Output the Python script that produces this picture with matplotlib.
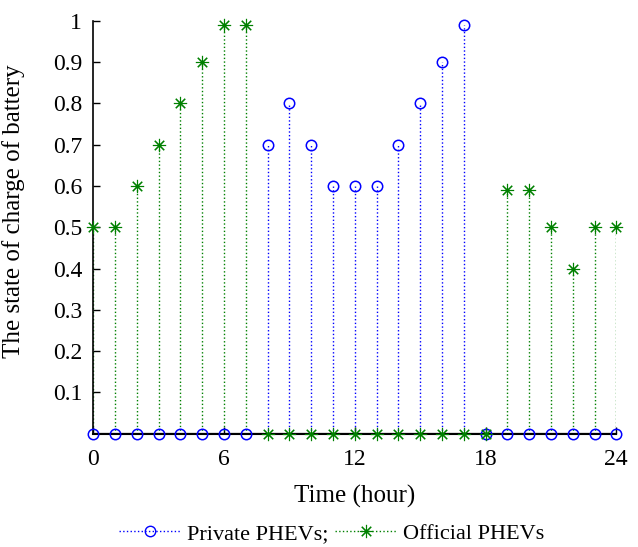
import numpy as np
import matplotlib.pyplot as plt
from matplotlib.lines import Line2D

plt.rcParams['font.family'] = ['Liberation Serif', 'DejaVu Serif']

hours = np.arange(0, 25)
# state of charge per hour for each fleet
soc_private = [0, 0, 0, 0, 0, 0, 0, 0, 0.7, 0.8, 0.7, 0.6, 0.6, 0.6, 0.7, 0.8, 0.9, 0.99,
               0, 0, 0, 0, 0, 0, 0]
soc_official = [0.5, 0.5, 0.6, 0.7, 0.8, 0.9, 0.99, 0.99, 0, 0, 0, 0, 0, 0, 0, 0, 0, 0,
                0, 0.59, 0.59, 0.5, 0.4, 0.5, 0.5]
x_ticks = [0, 6, 12, 18, 24]
y_ticks = [0.1, 0.2, 0.3, 0.4, 0.5, 0.6, 0.7, 0.8, 0.9, 1.0]
y_tick_labels = ['0.1', '0.2', '0.3', '0.4', '0.5', '0.6', '0.7', '0.8', '0.9', '1']

blue = '#0000ff'
green = '#008000'
star = (8, 2, 0)  # eight-spoke asterisk

fig = plt.figure(figsize=(6.38, 5.47), dpi=100)
ax = fig.add_axes([0.146, 0.207, 0.82, 0.755])

mk1, st1, bl1 = ax.stem(hours, soc_private, linefmt=':', markerfmt='o', basefmt='k-')
plt.setp(st1, color=blue, linewidth=1.0)
plt.setp(mk1, markeredgecolor=blue, markerfacecolor='none', markersize=7.5, markeredgewidth=1.1,
         clip_on=False, zorder=3)
plt.setp(bl1, color='black', linewidth=1.5, zorder=2)

mk2, st2, bl2 = ax.stem(hours, soc_official, linefmt=':', markerfmt='o', basefmt='k-')
plt.setp(st2, color=green, linewidth=1.0)
plt.setp(mk2, marker=star, color=green, markersize=9.5, markeredgewidth=0.8, clip_on=False, zorder=4)
plt.setp(bl2, color='black', linewidth=1.5, zorder=2)

ax.set_xlim(0, 24)
ax.set_ylim(0, 1)
ax.set_xticks(x_ticks)
ax.set_yticks(y_ticks)
ax.set_yticklabels(y_tick_labels)
ax.tick_params(direction='in', labelsize=17, length=5, width=1)
ax.tick_params(axis='x', pad=11)
ax.tick_params(axis='y', pad=8)
ax.spines['top'].set_visible(False)
ax.spines['right'].set_visible(False)
ax.spines['left'].set_linewidth(1.2)
ax.spines['bottom'].set_linewidth(1.5)

ax.set_xlabel('Time (hour)', fontsize=18)
ax.set_ylabel('The state of charge of battery', fontsize=18)
ax.xaxis.set_label_coords(0.5, -0.125)
ax.yaxis.set_label_coords(-0.13, 0.54)

handles = [
    Line2D([], [], color=blue, linestyle=':', marker='o', markerfacecolor='none',
           markeredgecolor=blue, markersize=7.5, linewidth=1.0),
    Line2D([], [], color=green, linestyle=':', marker=star, markersize=9.5,
           markeredgewidth=0.8, linewidth=1.0),
]
fig.legend(handles, ['Private PHEVs;', 'Official PHEVs'], loc='center', ncol=2,
           bbox_to_anchor=(0.52, 0.024), frameon=False, fontsize=16,
           handlelength=2.8, handletextpad=0.25, columnspacing=0.3)

fig.savefig('out.png', dpi=100)
